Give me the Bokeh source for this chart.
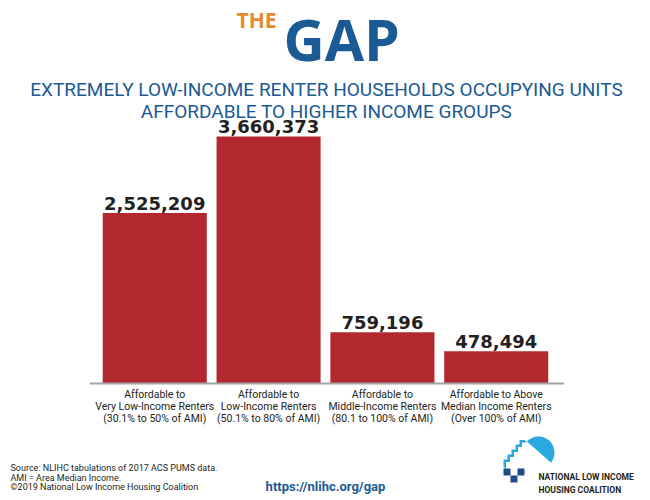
import math
from bokeh.plotting import figure
from bokeh.models import FactorRange, Range1d, Label, PolyAnnotation, ColumnDataSource
from bokeh.transform import dodge
from bokeh.core.properties import value
from bokeh.embed import file_html
from bokeh.resources import INLINE

# ---------------- data ----------------
categories = ["Very Low-Income", "Low-Income", "Middle-Income", "Above Median"]
category_labels = [
    "Affordable to\nVery Low-Income Renters\n(30.1% to 50% of AMI)",
    "Affordable to\nLow-Income Renters\n(50.1% to 80% of AMI)",
    "Affordable to\nMiddle-Income Renters\n(80.1 to 100% of AMI)",
    "Affordable to Above\nMedian Income Renters\n(Over 100% of AMI)",
]
households = [2525209, 3660373, 759196, 478494]
value_labels = [f"{v:,}" for v in households]

title_lines = [
    "EXTREMELY LOW-INCOME RENTER HOUSEHOLDS OCCUPYING UNITS",
    "AFFORDABLE TO HIGHER INCOME GROUPS",
]
footer_lines = [
    "Source: NLIHC tabulations of 2017 ACS PUMS data.",
    "AMI = Area Median Income.",
    "\u00a92019 National Low Income Housing Coalition",
]
url_text = "https://nlihc.org/gap"
org_lines = ["NATIONAL LOW INCOME", "HOUSING COALITION"]

# ---------------- styles ----------------
W, H = 650, 500
BAR = "#b3282e"
DARK = "#231f20"
BLUE = "#1b5a94"
ORANGE = "#e58a2c"
LIGHT_BLUE = "#29a9e0"
NAVY = "#1d4d86"

src = ColumnDataSource(dict(cat=categories, val=households, lab=value_labels,
                            catlab=category_labels, zero=[0] * len(categories)))
axis_src = ColumnDataSource(dict(c0=[categories[0]], c1=[categories[-1]], y=[0]))

p = figure(
    width=W, height=H,
    x_range=FactorRange(*categories, range_padding=0.4275),
    y_range=Range1d(-1733800, 5675700),
    output_backend="svg", toolbar_location=None,
    x_axis_location=None, y_axis_location=None,
    min_border=0,
)
p.outline_line_color = None
p.grid.visible = False
p.background_fill_color = "white"
p.border_fill_color = "white"

p.vbar(x="cat", top="val", width=0.914, source=src, fill_color=BAR, line_color=None)
p.text(x="cat", y="val", text="lab", source=src, text_align="center",
       text_baseline="middle", y_offset=-10,
       text_font=value("DejaVu Sans"), text_font_style="bold",
       text_font_size="18px", text_color=DARK)

# baseline (axis line)
p.segment(x0=dodge("c0", -0.571, range=p.x_range), x1=dodge("c1", 0.593, range=p.x_range),
          y0="y", y1="y", source=axis_src, line_color="#a3a3a3", line_width=2)

# category labels under the bars
p.text(x="cat", y="zero", text="catlab", source=src, text_align="center",
       text_baseline="top", y_offset=4, text_line_height=0.95,
       text_font=value("Roboto"), text_font_size="10.5px", text_color=DARK)


def sx(px):
    return px


def sy(py):
    return H - py


def poly(points, fill, line=None, lw=0, falpha=1.0):
    p.add_layout(PolyAnnotation(
        xs=[sx(a) for a, b in points], ys=[sy(b) for a, b in points],
        xs_units="screen", ys_units="screen",
        fill_color=fill, fill_alpha=falpha,
        line_color=line, line_width=lw, level="overlay"))


def label(text, px, py, size, color, font, style="normal", align="left"):
    p.add_layout(Label(x=sx(px), y=sy(py), x_units="screen", y_units="screen",
                       text=text, text_font=font, text_font_size=f"{size}px",
                       text_color=color, text_font_style=style,
                       text_align=align, text_baseline="middle", level="overlay"))


# header logo
label("THE", 236, 19, 21, ORANGE, "Open Sans", "bold")
label("GAP", 283, 38, 57, BLUE, "Open Sans", "bold")

# title
label(title_lines[0], 326, 89, 19, BLUE, "Roboto", align="center")
label(title_lines[1], 326, 111, 19, BLUE, "Roboto", align="center")

# footer
for i, t in enumerate(footer_lines):
    label(t, 10, 467.5 + i * 9.7, 9, DARK, "Roboto")
label(url_text, 325, 486, 13, BLUE, "Roboto", "bold", align="center")

# NLIHC mark
cx, cy, r = 538, 452, 16
circle_pts = [(cx + r * math.cos(2 * math.pi * k / 60), cy + r * math.sin(2 * math.pi * k / 60)) for k in range(60)]
poly(circle_pts, LIGHT_BLUE)
poly([(523, 438), (556, 467), (556, 470), (498, 470), (498, 438)], "white")
upper = [(503, 466), (503, 459), (507, 459), (507, 454), (511, 454), (511, 449),
         (515, 449), (515, 444), (519, 444), (519, 439.5), (524, 439.5)]
lower = [(a + 2.5, b + 2.5) for a, b in upper]
poly(upper + lower[::-1], LIGHT_BLUE)
for (x0, y0) in [(503, 468), (510, 475), (517, 468)]:
    poly([(x0, y0), (x0 + 7, y0), (x0 + 7, y0 + 7), (x0, y0 + 7)], NAVY)
label(org_lines[0], 538, 476, 8.5, DARK, "Roboto", "bold")
label(org_lines[1], 538, 489, 8.5, DARK, "Roboto", "bold")

open("out.html", "w").write(file_html(p, INLINE))
